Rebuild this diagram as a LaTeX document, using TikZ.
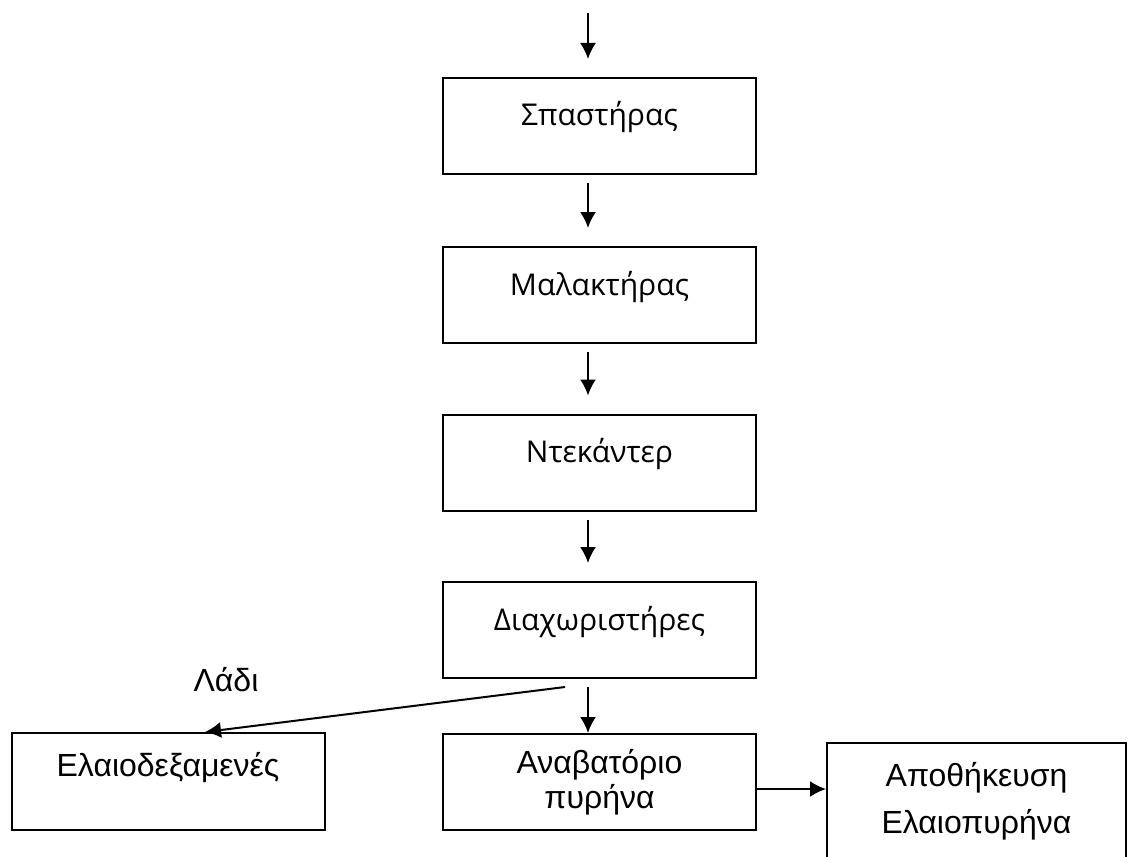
\documentclass[tikz,border=0pt]{standalone}
\usepackage{fontspec}
\setmainfont{Liberation Sans}
\newfontfamily\stagefont{Open Sans}
\usetikzlibrary{arrows.meta, positioning}

\begin{document}
\begin{tikzpicture}[x=0.5pt, y=-0.5pt,
  box/.style={draw, line width=1pt, minimum width=156.5pt, minimum height=48pt, inner sep=0pt, font=\fontsize{16}{17.5}\selectfont},
  stage/.style={box, text height=24pt, text depth=24pt, font=\stagefont\fontsize{15}{17}\selectfont},
  arr/.style={-{Latex[length=8pt,width=8pt]}, line width=1pt}]
\useasboundingbox (0,0) rectangle (1128,856);
\node[stage] (spas) at (599.5,126) {Σπαστήρας};
\node[stage] (mal) at (599.5,295) {Μαλακτήρας};
\node[stage] (ntek) at (599.5,462.5) {Ντεκάντερ};
\node[stage] (diax) at (599.5,630) {Διαχωριστήρες};
\node[box, text height=21.5pt, text depth=27pt] (ela) at (168,781.5) {Ελαιοδεξαμενές};
\node[box, align=center] (anav) at (599.5,782) {Αναβατόριο\\πυρήνα};
\node[box, align=center, minimum width=149.5pt, minimum height=58.5pt, font=\fontsize{16}{23.5}\selectfont] (apo) at (976.5,801.5) {Αποθήκευση\\Ελαιοπυρήνα};
\node[anchor=base, font=\fontsize{16}{17}\selectfont] (oil) at (226,691) {Λάδι};
\coordinate (in) at (588,13);
\draw[arr, shorten >=9pt] (in) -- (in |- spas.north);
\draw[arr, shorten <=4pt, shorten >=9pt] ([xshift=-5.75pt]spas.south) -- ([xshift=-5.75pt]mal.north);
\draw[arr, shorten <=4pt, shorten >=9pt] ([xshift=-5.75pt]mal.south) -- ([xshift=-5.75pt]ntek.north);
\draw[arr, shorten <=4pt, shorten >=9pt] ([xshift=-5.75pt]ntek.south) -- ([xshift=-5.75pt]diax.north);
\draw[arr, shorten <=4pt] ([xshift=-5.75pt]diax.south) -- ([xshift=-5.75pt]anav.north);
\draw[arr] ([xshift=-17.25pt,yshift=-4pt]diax.south) -- ([xshift=18.5pt]ela.north);
\draw[arr] ([yshift=-3.5pt]anav.east) -- ([yshift=-3.5pt]anav.east -| apo.west);
\end{tikzpicture}
\end{document}
